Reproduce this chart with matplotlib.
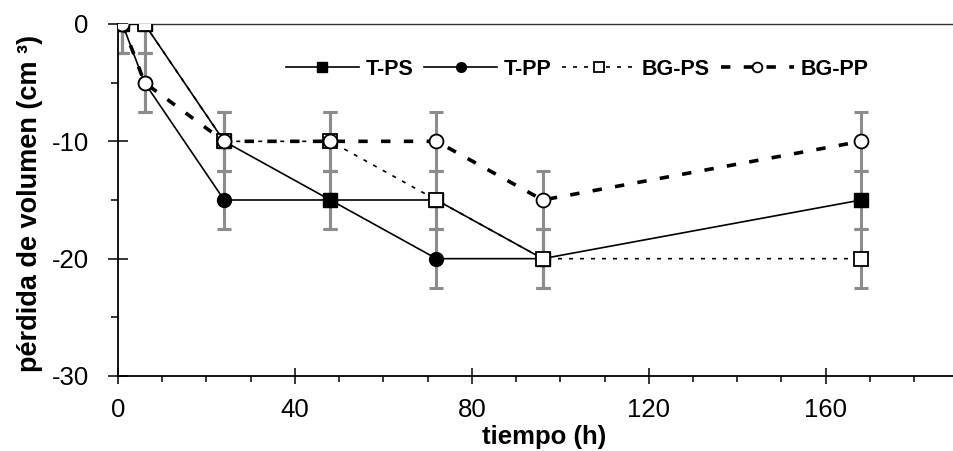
import matplotlib
matplotlib.use("Agg")
import matplotlib.pyplot as plt
from matplotlib.ticker import MultipleLocator

plt.rcParams['font.family'] = ['Liberation Sans', 'DejaVu Sans']
plt.rcParams['axes.unicode_minus'] = False

# time points (h) and volume loss (cm3) per series
tiempo = [1, 6, 24, 48, 72, 96, 168]
t_ps = [0, 0, -10, -15, -15, -20, -15]
t_pp = [0, -5, -15, -15, -20, -20]
bg_ps = [0, 0, -10, -10, -15, -20, -20]
bg_pp = [0, -5, -10, -10, -10, -15, -10]
error = 2.5

fig = plt.figure(figsize=(9.54, 4.51), dpi=100)
ax = fig.add_axes([0.1237, 0.1663, 0.8763, 0.7805])

gray = '#8c8c8c'
for ys in (t_ps, t_pp, bg_ps, bg_pp):
    ax.errorbar(tiempo[:len(ys)], ys, yerr=error, fmt='none', ecolor=gray,
                elinewidth=2.2, capsize=5, capthick=2.2, zorder=1)

ax.plot(tiempo, t_ps, '-', color='black', lw=1.2, marker='s', ms=10,
        mfc='black', mec='black', label='T-PS', zorder=3)
ax.plot(tiempo[:len(t_pp)], t_pp, '-', color='black', lw=1.2, marker='o', ms=10,
        mfc='black', mec='black', label='T-PP', zorder=3)
ax.plot(tiempo, bg_ps, color='black', lw=1.2, dashes=(2.4, 4.2), marker='s', ms=10,
        mfc='white', mec='black', mew=1.3, label='BG-PS', zorder=4)
ax.plot(tiempo, bg_pp, color='black', lw=2.6, dashes=(2.6, 3.7), marker='o', ms=10,
        mfc='white', mec='black', mew=1.3, label='BG-PP', zorder=5)

ax.set_xlim(0, 189)
ax.set_ylim(-30, 0)
ax.xaxis.set_major_locator(MultipleLocator(40))
ax.xaxis.set_minor_locator(MultipleLocator(10))
ax.yaxis.set_major_locator(MultipleLocator(10))
ax.yaxis.set_minor_locator(MultipleLocator(5))

ax.spines['right'].set_visible(False)
ax.spines['top'].set_color('#333333')
ax.spines['top'].set_linewidth(1.0)
ax.spines['left'].set_linewidth(1.3)
ax.spines['bottom'].set_linewidth(1.3)

ax.tick_params(axis='x', which='major', direction='inout', length=11, width=1.1,
               labelsize=18.5, pad=10)
ax.tick_params(axis='x', which='minor', direction='out', length=4, width=1.1)
ax.tick_params(axis='y', which='major', direction='inout', length=14, width=1.1,
               labelsize=18.5, pad=14)
ax.tick_params(axis='y', which='minor', direction='out', length=5, width=1.1)

ax.set_xlabel('tiempo (h)', fontsize=18.5, fontweight='bold')
ax.xaxis.set_label_coords(0.51, -0.14)
ax.set_ylabel('pérdida de volumen (cm ³)', fontsize=19.5, fontweight='bold')
ax.yaxis.set_label_coords(-0.09, 0.49)

ax.legend(loc='center', bbox_to_anchor=(0.549, 0.872), ncol=4, frameon=False,
          prop={'weight': 'bold', 'size': 15.5}, markerscale=0.7,
          handlelength=3.4, handletextpad=0.3, columnspacing=0.5)

fig.savefig('out.png', dpi=100)
